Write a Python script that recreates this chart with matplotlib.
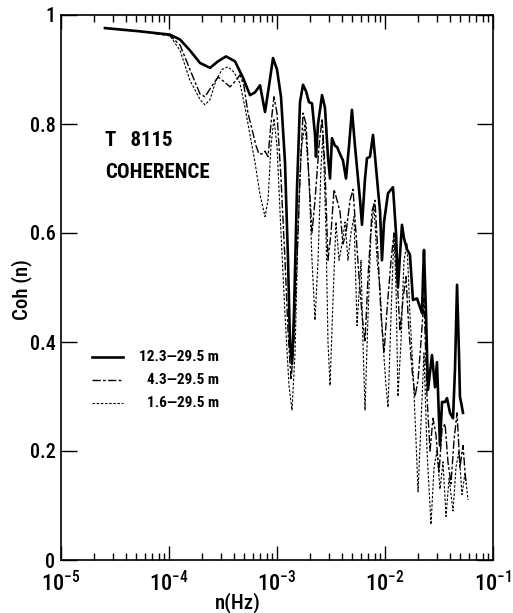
import numpy as np
import matplotlib
matplotlib.use("Agg")
import matplotlib.pyplot as plt
from matplotlib.lines import Line2D
from matplotlib.ticker import LogLocator, FixedLocator, NullFormatter

plt.rcParams['font.family'] = ['Roboto Condensed', 'Liberation Sans', 'DejaVu Sans']
plt.rcParams['font.weight'] = 500
plt.rcParams['mathtext.default'] = 'regular'
plt.rcParams['lines.scale_dashes'] = False

labels = ["12.3\u201429.5 m", "4.3\u201429.5 m", "1.6\u201429.5 m"]

logf_a = [-4.593, -4.269, -3.991, -3.898, -3.806, -3.713, -3.620, -3.546, -3.472, -3.389,
          -3.315, -3.250, -3.204, -3.157, -3.111, -3.074, -3.037, -3.000, -2.963, -2.926,
          -2.898, -2.880, -2.861, -2.843, -2.815, -2.787, -2.759, -2.731, -2.704, -2.676,
          -2.648, -2.639, -2.620, -2.583, -2.556, -2.528, -2.509, -2.491, -2.463, -2.444,
          -2.417, -2.389, -2.361, -2.333, -2.306, -2.278, -2.250, -2.231, -2.213, -2.185,
          -2.167, -2.139, -2.111, -2.083, -2.065, -2.046, -2.028, -2.009, -1.972, -1.926,
          -1.898, -1.880, -1.861, -1.843, -1.824, -1.796, -1.769, -1.741, -1.704, -1.657,
          -1.648, -1.639, -1.620, -1.602, -1.565, -1.537, -1.519, -1.491, -1.472, -1.444,
          -1.426, -1.398, -1.370, -1.352, -1.333, -1.315, -1.306, -1.287, -1.278]
coh_a = [0.976, 0.970, 0.964, 0.955, 0.935, 0.912, 0.903, 0.915, 0.924, 0.915,
         0.885, 0.853, 0.858, 0.871, 0.822, 0.870, 0.921, 0.900, 0.850, 0.730,
         0.550, 0.400, 0.360, 0.450, 0.680, 0.840, 0.872, 0.860, 0.840, 0.838,
         0.780, 0.740, 0.800, 0.853, 0.830, 0.740, 0.700, 0.774, 0.760, 0.758,
         0.745, 0.733, 0.700, 0.760, 0.826, 0.760, 0.700, 0.660, 0.615, 0.700,
         0.737, 0.740, 0.780, 0.720, 0.680, 0.640, 0.550, 0.620, 0.673, 0.684,
         0.600, 0.500, 0.560, 0.615, 0.590, 0.570, 0.560, 0.477, 0.480, 0.453,
         0.520, 0.569, 0.450, 0.312, 0.376, 0.317, 0.363, 0.210, 0.290, 0.290,
         0.297, 0.270, 0.260, 0.350, 0.505, 0.380, 0.300, 0.280, 0.270]

logf_b = [-4.593, -4.269, -3.991, -3.898, -3.806, -3.713, -3.667, -3.602, -3.546, -3.491,
          -3.435, -3.380, -3.343, -3.306, -3.269, -3.231, -3.194, -3.167, -3.139, -3.111,
          -3.083, -3.056, -3.028, -3.000, -2.963, -2.926, -2.898, -2.870, -2.843, -2.815,
          -2.787, -2.759, -2.731, -2.704, -2.676, -2.648, -2.611, -2.583, -2.556, -2.528,
          -2.500, -2.472, -2.444, -2.417, -2.389, -2.361, -2.324, -2.296, -2.269, -2.241,
          -2.213, -2.185, -2.157, -2.120, -2.093, -2.065, -2.037, -2.009, -1.981, -1.944,
          -1.917, -1.889, -1.861, -1.833, -1.806, -1.778, -1.750, -1.722, -1.694, -1.667,
          -1.639, -1.611, -1.583, -1.556, -1.528, -1.500, -1.472, -1.444, -1.417, -1.389,
          -1.361, -1.333, -1.306, -1.278, -1.250]
coh_b = [0.976, 0.970, 0.962, 0.945, 0.900, 0.855, 0.850, 0.870, 0.886, 0.878,
         0.868, 0.880, 0.890, 0.870, 0.820, 0.790, 0.760, 0.745, 0.745, 0.750,
         0.740, 0.800, 0.850, 0.820, 0.700, 0.550, 0.420, 0.330, 0.400, 0.550,
         0.700, 0.820, 0.800, 0.700, 0.600, 0.660, 0.760, 0.810, 0.720, 0.550,
         0.600, 0.680, 0.660, 0.640, 0.580, 0.600, 0.660, 0.680, 0.600, 0.520,
         0.450, 0.400, 0.520, 0.640, 0.660, 0.560, 0.450, 0.380, 0.460, 0.550,
         0.600, 0.520, 0.420, 0.480, 0.520, 0.420, 0.350, 0.300, 0.330, 0.400,
         0.480, 0.300, 0.200, 0.260, 0.230, 0.160, 0.240, 0.250, 0.180, 0.140,
         0.220, 0.270, 0.170, 0.210, 0.140]

logf_c = [-4.593, -4.269, -3.991, -3.898, -3.806, -3.713, -3.667, -3.620, -3.565, -3.509,
          -3.454, -3.398, -3.343, -3.296, -3.250, -3.204, -3.157, -3.111, -3.083, -3.056,
          -3.028, -3.000, -2.963, -2.926, -2.889, -2.861, -2.833, -2.806, -2.778, -2.741,
          -2.704, -2.676, -2.648, -2.620, -2.593, -2.574, -2.546, -2.528, -2.509, -2.481,
          -2.454, -2.426, -2.398, -2.370, -2.343, -2.315, -2.287, -2.259, -2.222, -2.204,
          -2.185, -2.157, -2.130, -2.102, -2.074, -2.046, -2.019, -1.991, -1.972, -1.944,
          -1.917, -1.898, -1.880, -1.852, -1.824, -1.796, -1.769, -1.741, -1.713, -1.694,
          -1.667, -1.639, -1.611, -1.574, -1.546, -1.519, -1.491, -1.463, -1.435, -1.407,
          -1.370, -1.343, -1.315, -1.287, -1.259, -1.231]
coh_c = [0.976, 0.970, 0.962, 0.935, 0.880, 0.845, 0.835, 0.845, 0.880, 0.900,
         0.905, 0.895, 0.875, 0.830, 0.780, 0.730, 0.670, 0.630, 0.660, 0.760,
         0.810, 0.760, 0.600, 0.450, 0.320, 0.275, 0.380, 0.600, 0.750, 0.800,
         0.700, 0.550, 0.440, 0.550, 0.720, 0.780, 0.600, 0.400, 0.320, 0.480,
         0.620, 0.550, 0.580, 0.620, 0.550, 0.600, 0.630, 0.430, 0.550, 0.400,
         0.275, 0.450, 0.600, 0.650, 0.550, 0.500, 0.400, 0.320, 0.280, 0.450,
         0.600, 0.500, 0.300, 0.400, 0.550, 0.580, 0.450, 0.350, 0.220, 0.125,
         0.250, 0.380, 0.200, 0.065, 0.170, 0.200, 0.130, 0.180, 0.080, 0.150,
         0.090, 0.170, 0.200, 0.120, 0.160, 0.110]

series = [(logf_a, coh_a), (logf_b, coh_b), (logf_c, coh_c)]
styles = [dict(color='black', lw=1.9, linestyle='-'),
          dict(color='black', lw=1.0, dashes=(6, 1.6, 2, 1.6)),
          dict(color='black', lw=0.8, dashes=(1.8, 1.2))]

W, H = 513, 613
fig = plt.figure(figsize=(W / 100, H / 100), dpi=100)
L, R, T, B = 61, 493, 15, 560
ax = fig.add_axes([L / W, 1 - B / H, (R - L) / W, (B - T) / H])

for (lf, c), st in zip(series, styles):
    ax.plot(10 ** np.array(lf), c, **st)

ax.set_xscale('log')
ax.set_xlim(1e-5, 1e-1)
ax.set_ylim(0, 1)

ax.xaxis.set_major_locator(FixedLocator([1e-5, 1e-4, 1e-3, 1e-2, 1e-1]))
ax.xaxis.set_minor_locator(LogLocator(base=10, subs=np.arange(2, 10), numticks=20))
ax.xaxis.set_minor_formatter(NullFormatter())
ax.set_xticklabels([r'$10^{-5}$', r'$10^{-4}$', r'$10^{-3}$', r'$10^{-2}$', r'$10^{-1}$'])
ax.set_yticks([0, 0.2, 0.4, 0.6, 0.8, 1.0])
ax.set_yticklabels(['0', '0.2', '0.4', '0.6', '0.8', '1'])

ax.tick_params(axis='x', which='major', direction='in', length=10, width=1.0,
               top=True, labelsize=16, pad=8)
ax.tick_params(axis='x', which='minor', direction='in', length=5, width=1.0, top=True)
ax.tick_params(axis='y', which='major', direction='in', length=11.5, width=1.0,
               right=True, labelsize=14.5, pad=4)
for s in ax.spines.values():
    s.set_linewidth(1.2)

fig.text(238 / W, 1 - 603 / H, 'n(Hz)', ha='center', va='center', fontsize=15, fontweight=500)
fig.text(22 / W, 1 - 290 / H, 'Coh (n)', ha='center', va='center', rotation=90,
         fontsize=15, fontweight=500)

fig.text(105 / W, 1 - 140 / H, 'T   8115', ha='left', va='center', fontsize=15, fontweight='bold')
fig.text(105 / W, 1 - 172 / H, 'COHERENCE', ha='left', va='center', fontsize=15, fontweight='bold')

rows_y = [357, 380, 403]
for lab, st, yy in zip(labels, styles, rows_y):
    fig.add_artist(Line2D([92 / W, 123 / W], [1 - yy / H, 1 - yy / H], **st))
    fig.text(219 / W, 1 - yy / H, lab, ha='right', va='center', fontsize=11, fontweight='bold')

fig.savefig('out.png', dpi=100)
